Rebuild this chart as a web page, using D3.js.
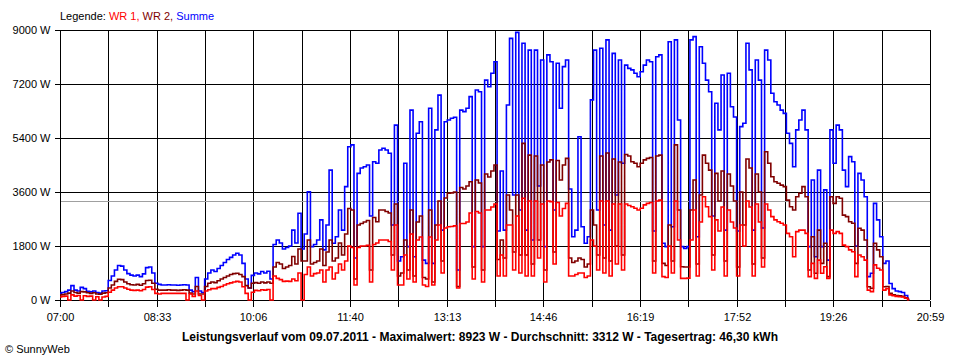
<!DOCTYPE html>
<html><head><meta charset="utf-8">
<script src="https://cdn.jsdelivr.net/npm/d3@7"></script>
<style>
body{margin:0;background:#fff}
svg{display:block}
text{font-family:"Liberation Sans",Arial,sans-serif;font-size:11px;fill:#000}
</style>
</head><body><svg id="c" width="960" height="360"></svg>
<script>
// ---- data ----
const dayMinutes = 839;          // 07:00 .. 20:59
const sampleStep = 3;            // minutes between samples, starting 07:00
const timeTickLabels = ["07:00","08:33","10:06","11:40","13:13","14:46","16:19","17:52","19:26","20:59"];
const powerTicks = [0,1800,3600,5400,7200,9000];
const average = 3312;
const legendItems = ["WR 1,","WR 2,","Summe"];
const titleText = "Leistungsverlauf vom 09.07.2011 - Maximalwert: 8923 W - Durchschnitt: 3312 W - Tagesertrag: 46,30 kWh";

const summe = [220,250,280,330,480,330,300,420,380,290,270,300,250,230,300,310,
650,800,1000,1150,1130,1000,880,830,800,830,780,870,1080,1100,900,560,520,
500,500,510,500,500,490,500,510,500,
330,280,750,300,250,700,900,1000,950,1050,1150,1250,1350,1420,1500,1560,1500,
1220,700,400,820,900,870,950,900,960,700,
1850,2000,1900,1700,1750,1800,2330,1900,2890,1700,2200,3610,1780,1850,2000,2670,1670,2500,4330,1890,2110,3000,2330,3780,5110,5170,1400,4220,4400,4440,4500,
2800,4610,4560,5000,5060,5000,4890,2500,5830,1300,1440,4560,1780,6330,1440,5560,5940,1330,1220,6390,1220,5670,6830,2330,5940,6000,6060,6090,1000,6330,6280,6390,6780,1780,7000,6940,1780,7330,7110,7560,7940,2300,
4300,2330,6500,8720,3500,8920,3000,8560,2330,8330,2000,8330,3800,8000,1780,8170,7940,3000,7890,6390,7780,8000,3700,2110,2330,5440,2440,1890,2110,6670,8330,3000,8390,2500,8670,2330,8220,3500,8000,4560,7830,7720,
7670,7560,7440,7610,7830,8000,7940,2300,8110,8170,1890,1780,8610,2440,8670,6000,1780,1720,1780,8670,8780,2110,8440,7890,7330,6940,2800,6560,5670,7500,2330,7560,6440,6100,2300,5780,5890,8560,7670,2330,8000,7330,
2400,8330,8000,6890,6610,6500,6330,6220,5560,5220,4440,5670,6000,6330,5670,1780,4000,1440,4330,1780,3670,1330,5670,4560,5830,5670,4330,3780,4780,4610,1800,4220,4000,3440,780,890,3220,2670,2110,1220,1300,550,380,300,280,250,150,30];

const wr2 = [170,180,200,230,300,250,230,280,270,240,220,240,200,190,230,240,
400,500,620,690,680,600,540,510,500,520,490,540,650,660,560,360,330,
330,330,340,330,330,320,330,340,330,
230,200,450,200,200,450,560,600,580,640,700,750,800,850,880,890,850,
780,480,400,560,580,560,600,570,600,560,
1100,1250,1200,1050,1100,1150,1450,1200,1700,1300,1300,2000,1200,1250,1300,1700,1150,1600,2000,1300,1400,1900,1500,2200,3050,3000,700,2500,2550,2600,2650,
1000,2750,2610,3000,3000,2950,2900,1500,3200,800,900,2000,1000,3000,800,2600,2800,750,700,3000,600,2500,3300,1300,3400,3560,3570,3600,450,3750,3700,3800,3940,1100,4000,3900,1000,4200,4100,4300,4500,1350,
2000,1400,3500,3000,1600,3500,1500,5220,1500,4830,1200,4800,2000,4500,1000,4600,4670,1600,4650,4000,4500,4720,1400,1250,1300,1400,1350,1100,1200,3000,2500,1500,4800,1400,4900,1300,4700,1800,4600,1500,4850,4800,
4610,4560,4440,4560,4670,4720,4750,1300,4800,4830,1220,1150,2500,1300,5170,3000,1110,1100,1100,3000,4000,1200,3500,4830,4560,4330,1500,4220,3300,4300,1300,4200,3800,3300,1100,3600,2500,4700,4400,1200,4200,3600,
1400,4940,4560,4110,3940,3890,3830,3780,3330,3110,3000,3440,3560,3780,3440,1000,2110,890,2330,1220,1890,780,3440,3220,3440,3390,2830,2780,2610,2560,1220,2390,2330,2000,440,390,1890,1670,1440,440,450,220,170,150,140,120,70,15];

const wr1 = [100,120,130,0,170,130,150,0,140,120,130,0,110,0,100,120,
260,330,400,440,440,400,360,330,320,330,310,350,430,440,350,220,200,
220,220,220,220,220,220,220,220,0,
200,120,300,150,0,300,340,380,380,420,450,500,540,570,600,620,600,
440,220,0,260,320,310,340,330,350,0,
800,720,680,620,630,620,700,640,900,0,850,1100,800,880,900,1000,600,1000,1100,700,900,1200,1000,1300,1800,1750,500,1750,1800,1800,1820,
600,1850,1900,2000,2000,2000,1950,1000,2500,500,500,1500,700,2200,600,2000,2100,500,450,2100,500,2000,2500,900,2400,2440,2450,2470,400,2550,2550,2600,2900,700,2950,2900,600,3000,3000,3100,3200,800,
1500,800,2500,2500,1000,2800,900,3390,800,3300,800,3300,1400,3200,600,3300,3280,1200,3250,2800,3050,3220,800,800,850,900,900,750,800,2000,1800,1000,3300,900,3300,800,3200,1200,3200,1000,3200,3150,
3110,3060,3000,3060,3170,3220,3250,900,3300,3330,780,750,1800,900,3300,2000,720,720,730,2000,3000,800,2600,3440,3110,2780,1000,2670,2300,3100,800,3000,2600,2400,800,2500,1800,3300,3100,800,3200,2600,
1100,3200,3000,2780,2670,2610,2560,2500,2220,2110,1440,2280,2330,2330,2220,780,1220,720,1330,890,1110,720,2330,2220,2280,2220,1830,1780,1670,1610,780,1500,1440,1330,330,280,1170,1060,1000,330,380,170,140,120,110,100,60,10];

// ---- chart ----
const svg = d3.select("#c");
const L = 60, R = 930, T = 30, B = 300;
const x = d3.scaleLinear().domain([0, dayMinutes]).range([L, R]);
const y = d3.scaleLinear().domain([0, 9000]).range([B, T]);
const px = v => Math.round(v) + 0.5;

svg.append("rect").attr("width",960).attr("height",360).attr("fill","#fff");

const xTickVals = d3.range(19).map(k => k * dayMinutes / 18);

const grid = svg.append("g").attr("shape-rendering","crispEdges").attr("stroke","#000").attr("stroke-width",1);
grid.selectAll("line.h").data(powerTicks).join("line")
  .attr("x1", L).attr("x2", R).attr("y1", d => px(y(d))).attr("y2", d => px(y(d)));
grid.selectAll("line.v").data(xTickVals).join("line")
  .attr("y1", T).attr("y2", B).attr("x1", d => px(x(d))).attr("x2", d => px(x(d)));

svg.append("line").attr("shape-rendering","crispEdges")
  .attr("x1", L+1).attr("x2", R).attr("y1", px(y(average))).attr("y2", px(y(average)))
  .attr("stroke","#a0a0a0").attr("stroke-width",1);

const yAxis = d3.axisLeft(y).tickValues(powerTicks).tickFormat(d => d + " W").tickSize(6).tickPadding(4).tickSizeOuter(0);
const gy = svg.append("g").attr("transform",`translate(${L+0.5},0)`).call(yAxis);
gy.select(".domain").remove();
gy.selectAll("line").attr("stroke","#000").attr("shape-rendering","crispEdges");
gy.selectAll(".tick").attr("transform", d => `translate(0,${px(y(d))})`);
gy.selectAll("text").attr("font-family",null).attr("font-size",null).attr("fill","#000");

const xAxis = d3.axisBottom(x).tickValues(xTickVals)
  .tickFormat((d,i) => i % 2 === 0 ? timeTickLabels[i/2] : "")
  .tickSize(6).tickPadding(7).tickSizeOuter(0);
const gx = svg.append("g").attr("transform",`translate(0,${B+0.5})`).call(xAxis);
gx.select(".domain").remove();
gx.selectAll(".tick").attr("transform", d => `translate(${px(x(d))},0)`);
gx.selectAll("line").attr("stroke","#000").attr("shape-rendering","crispEdges");
gx.selectAll("text").attr("font-family",null).attr("font-size",null).attr("fill","#000");

const line = d3.line().x((d,i) => x(i * sampleStep)).y(d => y(d)).curve(d3.curveStep);
const series = [
  {values: summe, color: "#0000ff"},
  {values: wr2, color: "#800000"},
  {values: wr1, color: "#ff0000"}
];
svg.append("g").selectAll("path").data(series).join("path")
  .attr("d", d => line(d.values))
  .attr("fill","none").attr("stroke", d => d.color).attr("stroke-width",1.6)
  .attr("stroke-linejoin","miter");

const leg = svg.append("text").attr("x", 60).attr("y", 20);
leg.append("tspan").text("Legende: ");
const legColors = ["#ff0000","#800000","#0000ff"];
legendItems.forEach((t,i) => leg.append("tspan").attr("fill", legColors[i]).text(t + (i < 2 ? " " : "")));

svg.append("text").attr("x", 480).attr("y", 341).attr("text-anchor","middle")
  .attr("font-weight","bold").style("font-size","12px").text(titleText);

svg.append("text").attr("x", 5).attr("y", 353).text("\u00A9 SunnyWeb");
</script>
</body></html>
